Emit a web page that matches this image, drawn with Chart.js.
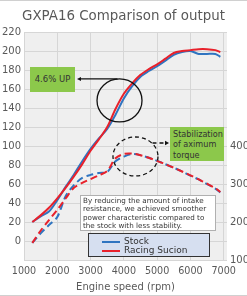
<!DOCTYPE html>
<html>
<head>
<meta charset="utf-8">
<script src="https://cdn.jsdelivr.net/npm/chart.js@4"></script>
<style>
  body { margin: 0; background: #fff; font-family: "DejaVu Sans", sans-serif; }
  #wrap { position: relative; width: 247px; height: 296px; overflow: hidden; }
  .note { position: absolute; color: #333; box-sizing: border-box; }
  #upBox { left: 30px; top: 67px; width: 45px; height: 25px; background: #8cc84b; font-size: 8.5px; line-height: 25px; text-align: center; }
  #torqueBox { left: 170px; top: 127px; width: 54px; height: 34px; background: #8cc84b; font-size: 8.1px; line-height: 10.3px; padding: 2px 0 0 3px; }
  #textBox { left: 80px; top: 195px; width: 136px; height: 36px; background: #fff; border: 1px solid #b0b0b0; font-size: 7.2px; line-height: 8.3px; padding: 1px 0 0 2px; white-space: nowrap; }
  #legendBox { left: 88px; top: 233px; width: 122px; height: 24px; background: #d6dff0; border: 1px solid #333; font-size: 9px; line-height: 9px; padding: 3px 0 0 13px; }
  #legendBox div { white-space: nowrap; }
  #legendBox span { display: inline-block; width: 18px; height: 2px; margin-right: 4px; vertical-align: middle; }
  .edge { position: absolute; left: 0; width: 247px; height: 1px; background: #d0d0d0; }
</style>
</head>
<body>
<div id="wrap">
  <canvas id="chart"></canvas>
  <div class="note" id="upBox">4.6% UP</div>
  <div class="note" id="torqueBox">Stabilization<br>of aximum<br>torque</div>
  <div class="note" id="textBox">By reducing the amount of intake<br>resistance, we achieved smoother<br>power characteristic compared to<br>the stock with less stability.</div>
  <div class="note" id="legendBox"></div>
  <div class="edge" style="top:0"></div>
  <div class="edge" style="top:295px"></div>
</div>
<script>
const rpm = [1250, 1500, 1750, 2000, 2250, 2500, 2750, 3000, 3250, 3500, 3750, 4000,
             4250, 4500, 4750, 5000, 5250, 5500, 5750, 6000, 6250, 6500, 6750, 6900];

// power (left axis)
const stockPower  = [20, 26, 31, 43, 57, 70, 84, 97, 108, 118, 133, 150,
                     163, 173, 179, 184, 190, 196, 199, 200, 197, 197, 197, 194];
const racingPower = [20, 27, 35, 45, 56, 68, 81, 95, 107, 120, 139, 155,
                     166, 175, 181, 186, 192, 198, 200, 201, 202, 202, 201, 199];

// torque (right axis)
const stockTorque  = [145, 170, 192, 213, 268, 297, 316, 324, 329, 332, 360, 372,
                      379, 376, 369, 361, 352, 343, 333, 322, 312, 300, 288, 278];
const racingTorque = [145, 177, 205, 232, 262, 290, 303, 313, 323, 334, 368, 379,
                      380, 376, 369, 361, 352, 343, 333, 323, 312, 301, 289, 279];

const xTicks = [1000, 2000, 3000, 4000, 5000, 6000, 7000];
const seriesNames = ['Stock', 'Racing Sucion'];
const BLUE = '#2f74c0';
const RED = '#e8212b';
const FONT = 'DejaVu Sans';

const pts = arr => rpm.map((r, i) => ({ x: r, y: arr[i] }));

// legend box
document.getElementById('legendBox').innerHTML = seriesNames.map((n, i) =>
  `<div><span style="background:${i ? RED : BLUE}"></span>${n}</div>`).join('');

const decor = {
  id: 'decor',
  beforeDraw(chart) {
    const { ctx, chartArea: a } = chart;
    ctx.save();
    ctx.fillStyle = '#efefef';
    ctx.fillRect(a.left, a.top, a.right - a.left, a.bottom - a.top);
    ctx.restore();
  },
  afterDatasetsDraw(chart) {
    const { ctx, scales: { x, y } } = chart;
    ctx.save();
    ctx.strokeStyle = '#111';
    ctx.fillStyle = '#111';
    ctx.lineWidth = 1.3;

    // solid circle round the power gain
    const cx = x.getPixelForValue(3870), cy = y.getPixelForValue(148);
    ctx.beginPath();
    ctx.ellipse(cx, cy, 22.5, 21.5, 0, 0, Math.PI * 2);
    ctx.stroke();

    // arrow to "4.6% UP"
    const ay = cy - 21.5;
    ctx.beginPath();
    ctx.moveTo(cx - 2, ay);
    ctx.lineTo(80, ay);
    ctx.stroke();
    ctx.beginPath();
    ctx.moveTo(77, ay);
    ctx.lineTo(81, ay - 2);
    ctx.lineTo(81, ay + 2);
    ctx.closePath();
    ctx.fill();

    // dashed ellipse round torque peak
    const ex = x.getPixelForValue(4350), ey = y.getPixelForValue(89);
    ctx.setLineDash([4, 3]);
    ctx.beginPath();
    ctx.ellipse(ex, ey, 22.5, 19.5, 0, 0, Math.PI * 2);
    ctx.stroke();

    // dashed arrow to torque box
    const by = ey - 13.5;
    ctx.beginPath();
    ctx.moveTo(ex + 17, by);
    ctx.lineTo(166, by);
    ctx.stroke();
    ctx.setLineDash([]);
    ctx.beginPath();
    ctx.moveTo(169, by);
    ctx.lineTo(165, by - 2.2);
    ctx.lineTo(165, by + 2.2);
    ctx.closePath();
    ctx.fill();
    ctx.restore();
  }
};

const tickFont = { family: FONT, size: 10 };

new Chart(document.getElementById('chart'), {
  type: 'line',
  data: {
    datasets: [
      { label: seriesNames[1], data: pts(racingPower), borderColor: RED, yAxisID: 'y' },
      { label: seriesNames[1], data: pts(racingTorque), borderColor: RED, borderDash: [7, 4], yAxisID: 'y1' },
      { label: seriesNames[0], data: pts(stockPower), borderColor: BLUE, yAxisID: 'y' },
      { label: seriesNames[0], data: pts(stockTorque), borderColor: BLUE, borderDash: [7, 4], yAxisID: 'y1' }
    ]
  },
  options: {
    responsive: true,
    maintainAspectRatio: false,
    animation: false,
    layout: { padding: 0 },
    elements: {
      point: { radius: 0 },
      line: { borderWidth: 2, tension: 0.3, fill: false }
    },
    plugins: {
      legend: { display: false },
      tooltip: { enabled: false },
      title: {
        display: true,
        text: 'GXPA16 Comparison of output',
        color: '#595959',
        font: { family: FONT, size: 13.4, weight: 'normal' },
        padding: { top: 8, bottom: 8 }
      }
    },
    scales: {
      x: {
        type: 'linear',
        min: 1000,
        max: 7100,
        border: { display: false },
        grid: { color: '#d6d6d6', drawTicks: false },
        ticks: {
          autoSkip: false, maxRotation: 0,
          padding: 6, color: '#595959', font: { family: FONT, size: 9.6 },
          callback: v => String(v)
        },
        afterBuildTicks: s => { s.ticks = xTicks.map(v => ({ value: v })); },
        title: {
          display: true, text: 'Engine speed (rpm)', color: '#595959',
          font: { family: FONT, size: 10 }, padding: { top: 3, bottom: 3 }
        },
        afterFit: s => { s.height = 36; }
      },
      y: {
        position: 'left',
        min: -20,
        max: 220,
        border: { display: false },
        grid: { color: '#d6d6d6', drawTicks: false },
        ticks: {
          stepSize: 20, autoSkip: false, padding: 3, color: '#595959', font: tickFont,
          callback: v => (v < 0 ? '' : v)
        },
        afterFit: s => { s.width = 24; }
      },
      y1: {
        position: 'right',
        min: 100,
        max: 700,
        border: { display: false },
        grid: { display: false, drawTicks: false },
        ticks: {
          stepSize: 100, autoSkip: false, padding: 3, color: '#595959', font: tickFont,
          callback: v => (v <= 400 ? v : '')
        },
        afterFit: s => { s.width = 20; }
      }
    }
  },
  plugins: [decor]
});
</script>
</body>
</html>
